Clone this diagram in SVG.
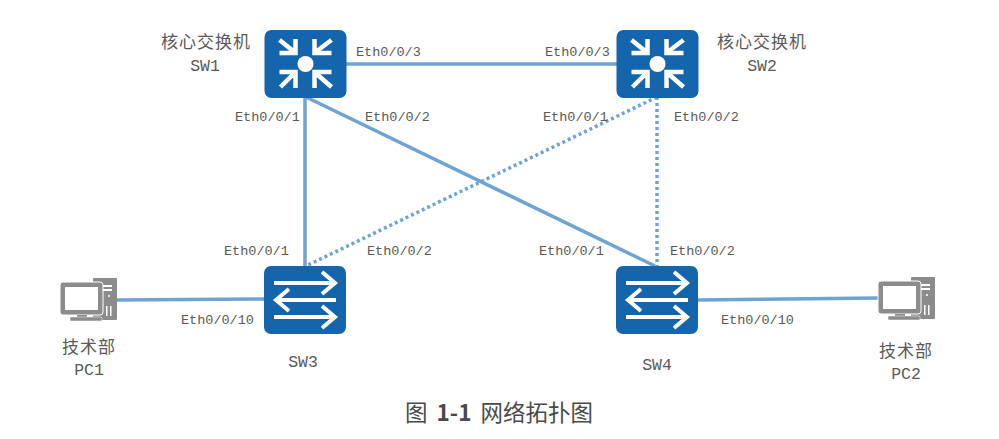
<svg xmlns="http://www.w3.org/2000/svg" xmlns:xlink="http://www.w3.org/1999/xlink" width="999" height="439" viewBox="0 0 999 439">
<style>
.bg{fill:#fff}
.dev{fill:#1565ad}
.ico{fill:none;stroke:#fff;stroke-width:4.500}
.link{stroke:#6fa3d3;stroke-width:3.500;fill:none}
.dot{stroke-dasharray:3 3}
.port{font:13.5px "Liberation Mono","Noto Sans CJK SC",monospace;fill:#5a5a5a}
.name{font:16.5px "Liberation Mono","Noto Sans CJK SC",monospace;fill:#5a5a5a;text-anchor:middle}
.cjk{font:17px "Noto Sans CJK SC",sans-serif;fill:#5a5a5a;letter-spacing:1px}
.cap{font:22.5px "Noto Sans CJK SC",sans-serif;fill:#4a4a4a;word-spacing:4px}
.g{fill:#8c8c8c}
.w{fill:#fff}
</style>
<defs>
<g id="core">
<rect class="dev" x="-41" y="-34" width="82" height="68" rx="7"/>
<circle cx="0" cy="0" r="8" fill="#fff"/>
<path class="ico" d="M-26-11H-10V-25M-26-24L-11-12M26-11H9V-25M26-24L10-12M-26 8H-10V24M-25 23L-11 9M26 8H9V24M26 23L10 9"/>
</g>
<g id="sw">
<rect class="dev" x="-41" y="-34" width="82" height="68" rx="7"/>
<path class="ico" style="stroke-width:4" d="M-31-17H30M17-28L30-17L17-6M31 0H-29M-16-11L-29 0L-16 11M-31 17H30M17 6L30 17L17 28"/>
</g>
<g id="pc">
<rect class="g" x="33" y="0" width="24" height="42" rx="1"/>
<rect class="w" x="37" y="7" width="15" height="2"/>
<rect class="w" x="37" y="11" width="15" height="2"/>
<circle class="w" cx="49" cy="18" r="1"/>
<rect class="w" x="46" y="28" width="1.500" height="10"/>
<rect class="w" x="50" y="28" width="1.500" height="10"/>
<rect class="g" x="0" y="4" width="43" height="33" rx="3" stroke="#fff" stroke-width="1"/>
<rect class="w" x="5" y="9" width="33" height="23"/>
<rect class="g" x="17" y="37" width="10" height="3"/>
<rect class="g" x="10" y="39" width="32" height="4" rx="1" stroke="#fff" stroke-width=".5"/>
</g>
</defs>
<rect class="bg" width="999" height="439"/>
<g id="connectors">
<path class="link" d="M346 64H617"/>
<path class="link" d="M305 97V266"/>
<path class="link" d="M306 97L655 266"/>
<path class="link dot" d="M657 97L306 266"/>
<path class="link dot" d="M657 97V266"/>
<path class="link" d="M117 300L264 299"/>
<path class="link" d="M698 300L878 298"/>
</g>
<g id="sw1"><use xlink:href="#core" x="305.500" y="64"/>
<text class="cjk" x="161" y="48">核心交换机</text><text class="name" x="205" y="71">SW1</text></g>
<g id="sw2"><use xlink:href="#core" x="657.500" y="64"/>
<text class="cjk" x="717" y="48">核心交换机</text><text class="name" x="762" y="71">SW2</text></g>
<g id="sw3"><use xlink:href="#sw" x="305" y="300"/>
<text class="name" x="303" y="367">SW3</text></g>
<g id="sw4"><use xlink:href="#sw" x="657" y="300"/>
<text class="name" x="657" y="370">SW4</text></g>
<g id="pc1"><use xlink:href="#pc" x="60" y="278"/>
<text class="cjk" x="62" y="353">技术部</text><text class="name" x="89" y="375">PC1</text></g>
<g id="pc2"><use xlink:href="#pc" x="878" y="277"/>
<text class="cjk" x="879" y="357">技术部</text><text class="name" x="906" y="379">PC2</text></g>
<g id="labels">
<text class="port" x="356" y="56">Eth0/0/3</text>
<text class="port" x="545" y="56">Eth0/0/3</text>
<text class="port" x="235" y="121">Eth0/0/1</text>
<text class="port" x="365" y="121">Eth0/0/2</text>
<text class="port" x="543" y="121">Eth0/0/1</text>
<text class="port" x="674" y="121">Eth0/0/2</text>
<text class="port" x="224" y="255">Eth0/0/1</text>
<text class="port" x="367" y="255">Eth0/0/2</text>
<text class="port" x="539" y="255">Eth0/0/1</text>
<text class="port" x="670" y="255">Eth0/0/2</text>
<text class="port" x="181" y="324">Eth0/0/10</text>
<text class="port" x="721" y="324">Eth0/0/10</text>
</g>
<text class="cap" x="405" y="421">图 <tspan font-weight="700">1-1</tspan> 网络拓扑图</text>
</svg>
